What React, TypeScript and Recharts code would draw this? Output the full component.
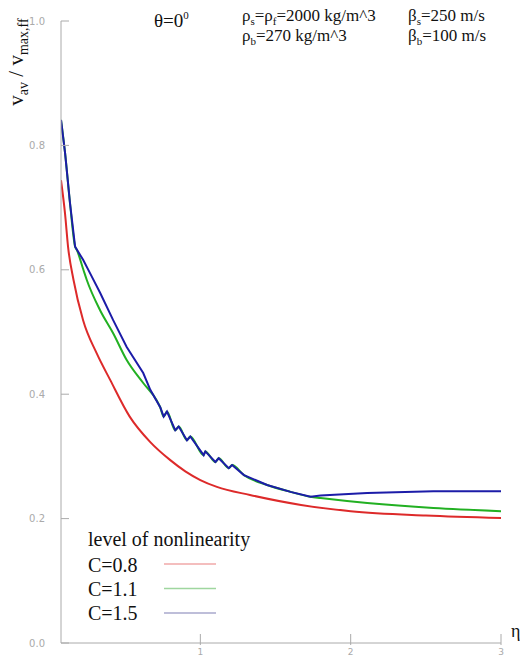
import React from 'react';
import { LineChart, Line, XAxis, YAxis } from 'recharts';

// C = 0.8 (red)
const redEta = [0.073, 0.1, 0.12, 0.156, 0.22, 0.31, 0.4, 0.53, 0.667, 0.8, 0.9, 1.0, 1.11, 1.33, 1.67, 2.0, 2.5, 3.0];
const redVal = [0.744, 0.69, 0.637, 0.584, 0.519, 0.466, 0.423, 0.364, 0.323, 0.294, 0.276, 0.262, 0.251, 0.238, 0.222, 0.212, 0.205, 0.201];

// C = 1.1 (green)
const greenEta = [0.073, 0.1, 0.133, 0.167, 0.178, 0.222, 0.244, 0.333, 0.42, 0.51, 0.62, 0.71, 0.733, 0.756, 0.778, 0.833, 0.856, 0.911, 0.933, 1.022, 1.033, 1.1, 1.122, 1.189, 1.211, 1.29, 1.444, 1.6, 1.733, 1.8, 2.11, 2.55, 3.0];
const greenVal = [0.841, 0.788, 0.707, 0.637, 0.632, 0.6, 0.584, 0.535, 0.498, 0.455, 0.418, 0.39, 0.379, 0.364, 0.372, 0.342, 0.348, 0.326, 0.332, 0.302, 0.308, 0.291, 0.297, 0.281, 0.286, 0.27, 0.254, 0.243, 0.235, 0.233, 0.225, 0.217, 0.212];

// C = 1.5 (blue)
const blueEta = [0.073, 0.1, 0.133, 0.167, 0.22, 0.278, 0.333, 0.42, 0.51, 0.62, 0.667, 0.733, 0.756, 0.778, 0.833, 0.856, 0.911, 0.933, 1.022, 1.033, 1.1, 1.122, 1.189, 1.211, 1.29, 1.444, 1.6, 1.733, 1.8, 2.11, 2.55, 3.0];
const blueVal = [0.841, 0.788, 0.707, 0.637, 0.616, 0.589, 0.563, 0.519, 0.476, 0.434, 0.407, 0.379, 0.364, 0.372, 0.342, 0.348, 0.326, 0.332, 0.302, 0.308, 0.291, 0.297, 0.281, 0.286, 0.27, 0.254, 0.243, 0.235, 0.237, 0.241, 0.244, 0.244];

const yTicks = [0, 0.2, 0.4, 0.6, 0.8, 1.0];
const xTicks = [1, 2, 3];
const seriesNames = ['C=0.8', 'C=1.1', 'C=1.5'];
const seriesColors = ['#dd2a2a', '#22b022', '#1c1ca8'];
const legendColors = ['#f0a8a8', '#9fd69f', '#a8a8cc'];
const curveTypes = ['monotone', 'monotone', 'linear'];

const toData = (eta: number[], val: number[]) => eta.map((x, i) => ({ eta: x, v: val[i] }));
const seriesData = [toData(redEta, redVal), toData(greenEta, greenVal), toData(blueEta, blueVal)];

const AX = '#aaaaaa';
const SERIF = 'Liberation Serif';
const serif = { fontFamily: SERIF };

const YTick = (props: any) => {
  const { x, y, payload } = props;
  return (
    <g>
      <line x1={x} x2={x + 8} y1={y} y2={y} stroke={AX} />
      <text x={x - 16} y={y} dy="0.35em" textAnchor="end" fontSize={10} fill={AX} style={{ fontFamily: 'DejaVu Sans' }}>
        {Number(payload.value).toFixed(1)}
      </text>
    </g>
  );
};

const XTick = (props: any) => {
  const { x, y, payload } = props;
  return (
    <g>
      <line x1={x} x2={x} y1={y - 9} y2={y + 2} stroke={AX} />
      <text x={x} y={655} textAnchor="middle" fontSize={9} fill={AX} style={{ fontFamily: 'DejaVu Sans' }}>
        {payload.value}
      </text>
    </g>
  );
};

export default function App() {
  return (
    <div style={{ position: 'absolute', left: 0, top: 0, width: 520, height: 656, background: '#fff' }}>
      <LineChart width={520} height={656} margin={{ top: 21, right: 19, bottom: 0, left: 0 }}>
        <XAxis
          dataKey="eta"
          type="number"
          domain={[0.073, 3]}
          allowDataOverflow
          ticks={xTicks}
          height={13}
          tickSize={0}
          tickMargin={0}
          tickLine={false}
          tick={<XTick />}
          axisLine={{ stroke: AX }}
        />
        <YAxis
          type="number"
          domain={[0, 1]}
          ticks={yTicks}
          width={61}
          tickSize={0}
          tickMargin={0}
          tickLine={false}
          tick={<YTick />}
          axisLine={{ stroke: AX }}
        />
        {seriesData.map((d, i) => (
          <Line
            key={seriesNames[i]}
            data={d}
            dataKey="v"
            name={seriesNames[i]}
            type={curveTypes[i] as any}
            stroke={seriesColors[i]}
            strokeWidth={2}
            dot={false}
            isAnimationActive={false}
          />
        ))}
      </LineChart>
      <svg
        width={520}
        height={656}
        style={{ position: 'absolute', left: 0, top: 0, pointerEvents: 'none', fontFamily: SERIF }}
      >
        <text x={154} y={27} fontSize={19} fill="#111" style={serif}>
          θ=0<tspan dy={-8} fontSize={11}>0</tspan>
        </text>
        <text x={242} y={21} fontSize={17} fill="#111" style={serif}>
          ρ<tspan dy={4} fontSize={11}>s</tspan>
          <tspan dy={-4}>=ρ</tspan>
          <tspan dy={4} fontSize={11}>f</tspan>
          <tspan dy={-4}>=2000 kg/m^3</tspan>
        </text>
        <text x={242} y={41} fontSize={17} fill="#111" style={serif}>
          ρ<tspan dy={4} fontSize={11}>b</tspan>
          <tspan dy={-4}>=270 kg/m^3</tspan>
        </text>
        <text x={408} y={21} fontSize={17} fill="#111" style={serif}>
          β<tspan dy={4} fontSize={11}>s</tspan>
          <tspan dy={-4}>=250 m/s</tspan>
        </text>
        <text x={408} y={41} fontSize={17} fill="#111" style={serif}>
          β<tspan dy={4} fontSize={11}>b</tspan>
          <tspan dy={-4}>=100 m/s</tspan>
        </text>
        <text transform="translate(23,62) rotate(-90)" textAnchor="middle" fontSize={21} fill="#111" style={serif}>
          v<tspan dy={5} fontSize={14}>av</tspan>
          <tspan dy={-5}> / v</tspan>
          <tspan dy={5} fontSize={14}>max,ff</tspan>
        </text>
        <text x={511} y={637} fontSize={18} fill="#111" style={serif}>η</text>
        <text x={88} y={546} fontSize={20} fill="#111" style={serif}>level of nonlinearity</text>
        {seriesNames.map((n, i) => (
          <g key={n}>
            <text x={88} y={572 + i * 24} fontSize={20} fill="#111" style={serif}>{n}</text>
            <line x1={164} x2={216} y1={564 + i * 24.5} y2={564 + i * 24.5} stroke={legendColors[i]} strokeWidth={1.5} />
          </g>
        ))}
      </svg>
    </div>
  );
}
